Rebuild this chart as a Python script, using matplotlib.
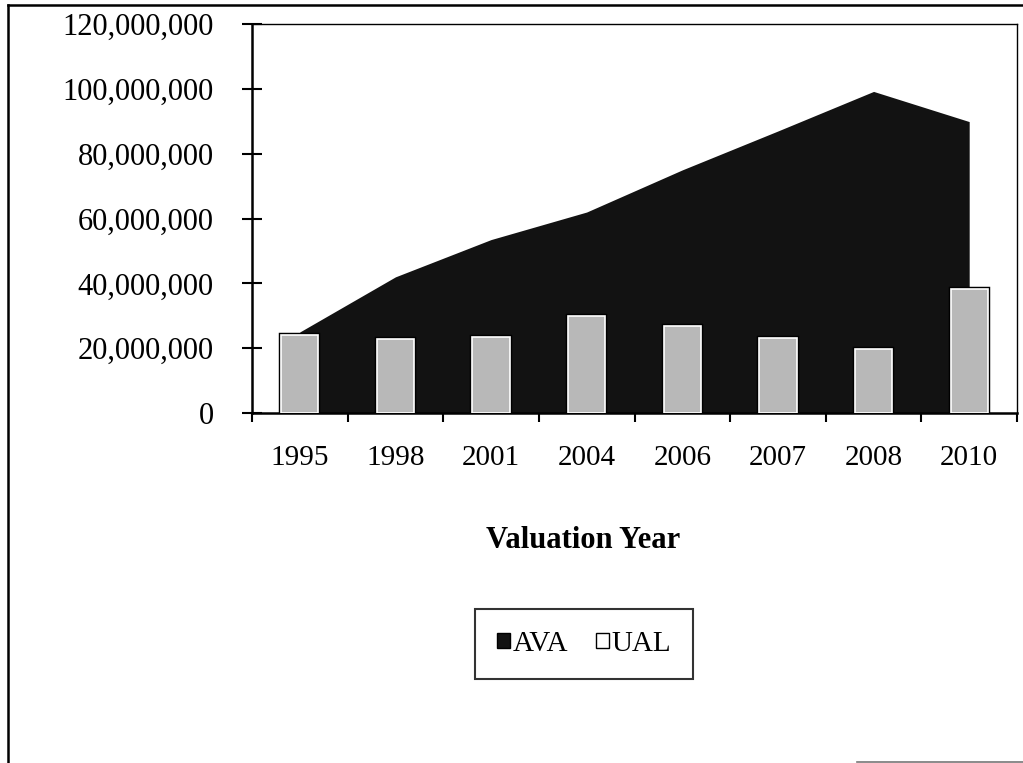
import matplotlib
matplotlib.use("Agg")
import matplotlib.pyplot as plt
from matplotlib.patches import Patch
from matplotlib.lines import Line2D
from matplotlib.ticker import FuncFormatter, FixedLocator

years = ["1995", "1998", "2001", "2004", "2006", "2007", "2008", "2010"]
ava = [25.0e6, 42.0e6, 53.5e6, 62.0e6, 75.0e6, 87.0e6, 99.2e6, 89.9e6]
ual = [24.1e6, 22.7e6, 23.5e6, 30.0e6, 26.8e6, 23.2e6, 19.8e6, 38.4e6]
yticks = [0, 20e6, 40e6, 60e6, 80e6, 100e6, 120e6]

plt.rcParams['font.family'] = ['Liberation Serif', 'DejaVu Serif']

W, H = 1023, 763
fig = plt.figure(figsize=(W / 100, H / 100), dpi=100)
ax = fig.add_axes([252 / W, 1 - 413 / H, (1017 - 252) / W, (413 - 24) / H])

x = list(range(len(years)))
ax.fill_between(x, ava, 0, color='#121212', linewidth=0, zorder=1)
ax.bar(x, ual, width=0.39, color='#b8b8b8', edgecolor='black', linewidth=3.2, zorder=2)
ax.bar(x, ual, width=0.39, color='#b8b8b8', edgecolor='white', linewidth=1.2, zorder=3)

ax.set_xlim(-0.5, len(years) - 0.5)
ax.set_ylim(0, 120e6)
ax.yaxis.set_major_locator(FixedLocator(yticks))
ax.yaxis.set_major_formatter(FuncFormatter(lambda v, p: f"{int(v):,}"))
ax.tick_params(axis='y', direction='inout', length=14.4, width=1.5, pad=20.5,
               labelsize=22, color='black')
ax.set_xticks(x)
ax.set_xticklabels(years)
ax.set_xticks([i - 0.5 for i in range(len(years) + 1)], minor=True)
ax.tick_params(axis='x', which='major', length=0, pad=23, labelsize=21)
ax.tick_params(axis='x', which='minor', direction='out', length=6.5, width=1.5)

for side in ['left', 'bottom']:
    ax.spines[side].set_linewidth(1.8)
for side in ['top', 'right']:
    ax.spines[side].set_linewidth(1.0)

fig.text(583 / W, 1 - 541 / H, "Valuation Year", ha='center', va='center',
         fontsize=22, fontweight='bold')

handles = [Patch(facecolor='#121212', edgecolor='black', linewidth=1.0),
           Patch(facecolor='white', edgecolor='black', linewidth=1.0)]
leg = fig.legend(handles, ["AVA", "UAL"], loc='center',
                 bbox_to_anchor=(584 / W, 1 - 644 / H), ncol=2, frameon=True,
                 fontsize=21, handlelength=0.45, handleheight=0.45,
                 handletextpad=0.08, columnspacing=0.95, borderpad=0.75,
                 fancybox=False, edgecolor='black')
leg.get_frame().set_linewidth(1.5)

# outer chart border
fig.add_artist(Line2D([8 / W, 8 / W], [0, 1 - 5 / H], transform=fig.transFigure,
                      color='black', linewidth=1.8))
fig.add_artist(Line2D([8 / W, 1], [1 - 5 / H, 1 - 5 / H], transform=fig.transFigure,
                      color='black', linewidth=1.8))
fig.add_artist(Line2D([857 / W, 1], [1 - 762 / H, 1 - 762 / H], transform=fig.transFigure,
                      color='#777777', linewidth=1.2))

fig.savefig("out.png", dpi=100)
